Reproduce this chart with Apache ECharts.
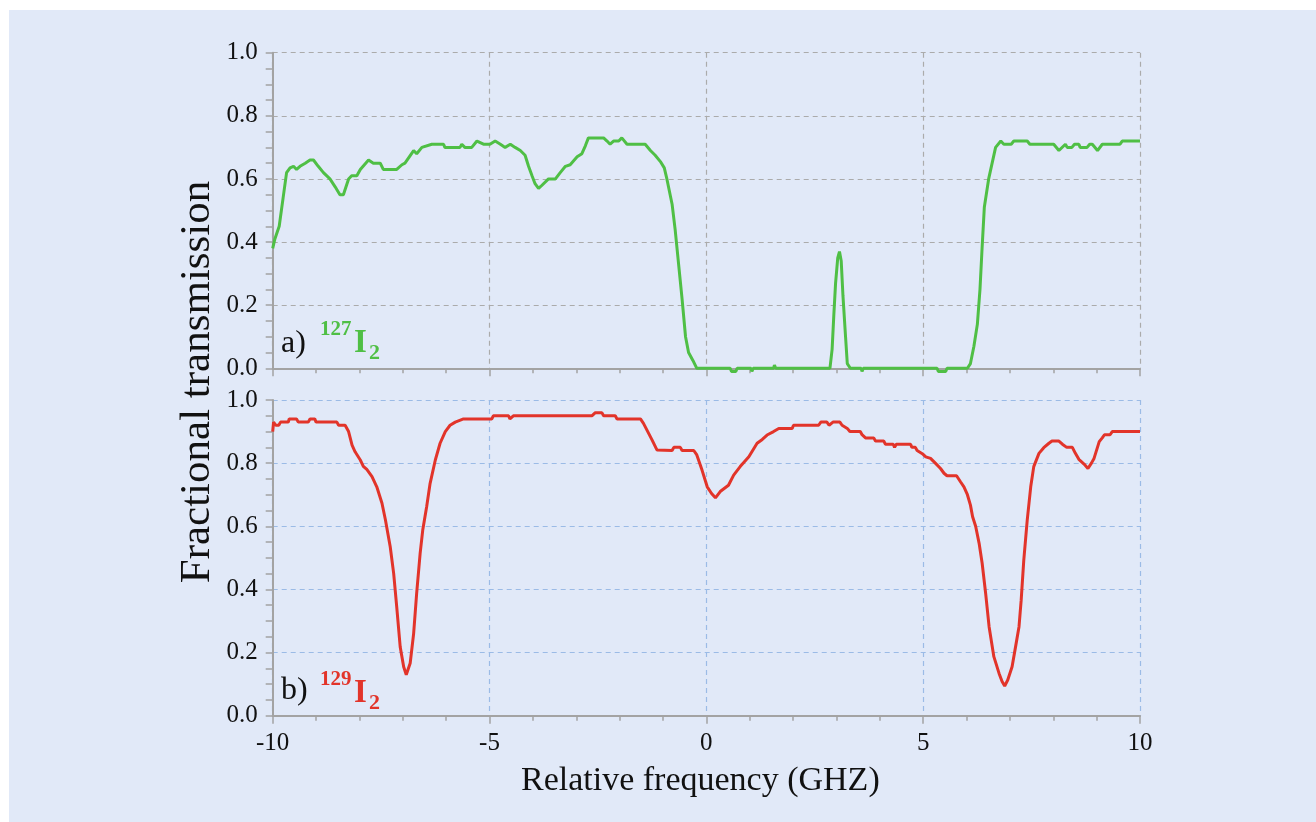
<!DOCTYPE html>
<html>
<head>
<meta charset="utf-8">
<script src="https://cdn.jsdelivr.net/npm/echarts@6/dist/echarts.min.js"></script>
<style>
  html, body { margin: 0; padding: 0; background: #ffffff; }
  #wrap { position: relative; width: 1316px; height: 822px; background: #ffffff; overflow: hidden; }
  #bg { position: absolute; left: 9px; top: 10px; width: 1307px; height: 812px; background: #e1e9f8; }
  #chart { position: absolute; left: 0; top: 0; width: 1316px; height: 822px; }
</style>
</head>
<body>
<div id="wrap"><div id="bg"></div><div id="chart"></div></div>
<script>
// ---- Data ----
const freqA = [-10,-9.95,-9.85,-9.76,-9.68,-9.6,-9.52,-9.45,-9.37,-9.25,-9.14,-9.06,-8.95,-8.83,-8.68,-8.56,-8.45,-8.37,-8.25,-8.18,-8.06,-7.98,-7.79,-7.68,-7.52,-7.45,-7.14,-7.02,-6.95,-6.75,-6.68,-6.56,-6.33,-6.06,-6.03,-5.68,-5.64,-5.57,-5.41,-5.29,-5.14,-4.99,-4.87,-4.75,-4.64,-4.52,-4.41,-4.29,-4.18,-4.10,-4.02,-3.95,-3.87,-3.79,-3.64,-3.48,-3.37,-3.25,-3.14,-2.98,-2.87,-2.79,-2.72,-2.37,-2.29,-2.22,-2.14,-2.02,-1.95,-1.83,-1.41,-1.29,-1.18,-1.06,-0.97,-0.91,-0.79,-0.72,-0.64,-0.56,-0.48,-0.41,-0.31,-0.22,0.55,0.58,0.68,0.71,1.03,1.05,1.08,1.55,1.57,1.6,2.85,2.90,2.94,2.98,3.03,3.07,3.11,3.15,3.21,3.25,3.28,3.32,3.57,3.59,3.62,5.32,5.35,5.52,5.55,6.02,6.09,6.17,6.25,6.31,6.36,6.41,6.51,6.59,6.67,6.79,6.86,7.03,7.09,7.40,7.46,8.01,8.13,8.28,8.32,8.43,8.49,8.59,8.62,8.78,8.84,8.90,9.02,9.13,9.54,9.59,10];
const transA = [0.38,0.41,0.45,0.54,0.62,0.635,0.64,0.63,0.64,0.65,0.66,0.66,0.64,0.62,0.60,0.575,0.55,0.55,0.60,0.61,0.61,0.63,0.66,0.65,0.65,0.63,0.63,0.645,0.65,0.69,0.68,0.70,0.71,0.71,0.70,0.70,0.71,0.70,0.70,0.72,0.71,0.71,0.72,0.71,0.70,0.71,0.70,0.69,0.675,0.64,0.61,0.585,0.57,0.58,0.60,0.60,0.62,0.64,0.645,0.67,0.68,0.705,0.73,0.73,0.72,0.71,0.72,0.72,0.73,0.71,0.71,0.69,0.675,0.655,0.635,0.60,0.52,0.44,0.33,0.22,0.10,0.05,0.025,0.0,0.0,-0.01,-0.01,0.0,0.0,-0.01,0.0,0.0,0.01,0.0,0.0,0.06,0.17,0.27,0.35,0.37,0.34,0.23,0.10,0.015,0.02,0.0,0.0,-0.01,0.0,0.0,-0.01,-0.01,0.0,0.0,0.015,0.07,0.14,0.25,0.385,0.51,0.60,0.65,0.70,0.72,0.71,0.71,0.72,0.72,0.71,0.71,0.69,0.71,0.70,0.70,0.71,0.71,0.70,0.70,0.71,0.71,0.69,0.71,0.71,0.72,0.72];

const freqB = [-10,-9.98,-9.93,-9.86,-9.82,-9.64,-9.62,-9.45,-9.41,-9.18,-9.14,-9.03,-9.0,-8.52,-8.48,-8.33,-8.25,-8.17,-8.10,-7.98,-7.91,-7.83,-7.71,-7.60,-7.48,-7.40,-7.29,-7.21,-7.14,-7.06,-6.98,-6.92,-6.83,-6.75,-6.68,-6.60,-6.54,-6.45,-6.37,-6.25,-6.14,-6.02,-5.91,-5.79,-5.60,-4.95,-4.91,-4.56,-4.53,-4.45,-2.64,-2.56,-2.41,-2.37,-2.10,-2.06,-1.52,-1.45,-1.25,-1.14,-0.79,-0.75,-0.60,-0.56,-0.29,-0.22,-0.10,0.02,0.12,0.21,0.32,0.51,0.63,0.78,0.98,1.17,1.29,1.40,1.55,1.67,1.98,2.01,2.59,2.64,2.78,2.83,2.92,3.08,3.13,3.25,3.31,3.55,3.59,3.67,3.86,3.90,4.09,4.13,4.31,4.34,4.38,4.71,4.74,4.82,4.86,4.98,5.06,5.17,5.28,5.40,5.48,5.55,5.77,5.86,5.94,6.02,6.09,6.14,6.21,6.29,6.36,6.44,6.52,6.63,6.75,6.82,6.88,6.95,7.05,7.13,7.21,7.26,7.32,7.40,7.48,7.55,7.67,7.78,7.90,7.97,8.13,8.21,8.31,8.44,8.51,8.59,8.71,8.80,8.88,8.94,9.06,9.13,9.18,9.31,9.36,10];
const transB = [0.90,0.93,0.92,0.92,0.93,0.93,0.94,0.94,0.93,0.93,0.94,0.94,0.93,0.93,0.92,0.92,0.90,0.857,0.836,0.81,0.79,0.78,0.757,0.725,0.673,0.62,0.535,0.45,0.345,0.218,0.155,0.13,0.166,0.26,0.388,0.514,0.588,0.662,0.736,0.81,0.863,0.90,0.92,0.93,0.94,0.94,0.95,0.95,0.94,0.95,0.95,0.96,0.96,0.95,0.95,0.94,0.94,0.926,0.873,0.842,0.84,0.85,0.85,0.84,0.84,0.826,0.778,0.725,0.704,0.69,0.71,0.73,0.762,0.789,0.82,0.863,0.875,0.889,0.90,0.91,0.91,0.92,0.92,0.93,0.93,0.92,0.93,0.93,0.92,0.91,0.90,0.90,0.89,0.88,0.88,0.87,0.87,0.86,0.86,0.85,0.86,0.86,0.85,0.85,0.84,0.83,0.82,0.815,0.80,0.783,0.768,0.76,0.76,0.741,0.725,0.70,0.667,0.63,0.60,0.546,0.483,0.388,0.282,0.187,0.134,0.108,0.094,0.113,0.155,0.218,0.282,0.366,0.493,0.62,0.725,0.789,0.831,0.849,0.863,0.87,0.87,0.86,0.85,0.85,0.831,0.812,0.797,0.783,0.80,0.815,0.868,0.88,0.89,0.89,0.90,0.90];

const xTicks = { min: -10, max: 10, step: 5 };
const yTicks = { min: 0, max: 1, step: 0.2 };
const xTitle = 'Relative frequency (GHZ)';
const yTitle = 'Fractional transmission';

// ---- Styles ----
const FONT = '"Liberation Serif", "DejaVu Serif", serif';
const GREEN = '#4fbf45';
const RED = '#e2342a';
const AXIS = '#a3a3a3';

function pairs(xs, ys) { return xs.map((x, i) => [x, ys[i]]); }

function xAxisCfg(gridIndex, showLabels, gridColor) {
  return {
    type: 'value', gridIndex: gridIndex,
    min: xTicks.min, max: xTicks.max, interval: xTicks.step,
    axisLine: { show: true, onZero: false, lineStyle: { color: AXIS, width: 2 } },
    axisTick: { show: true, length: 8, lineStyle: { color: AXIS, width: 1.5 } },
    minorTick: { show: true, splitNumber: 5, length: 5, lineStyle: { color: AXIS, width: 1.5 } },
    axisLabel: showLabels ? { show: true, margin: 15, color: '#111', fontFamily: FONT, fontSize: 25,
      formatter: v => String(v) } : { show: false },
    splitLine: { show: true, lineStyle: { color: gridColor, type: [5, 4], width: 1.2 } },
    name: showLabels ? xTitle : '', nameLocation: 'middle', nameGap: 48,
    nameTextStyle: { color: '#111', fontFamily: FONT, fontSize: 34, padding: [0, 12, 0, 0] }
  };
}
function yAxisCfg(gridIndex, gridColor) {
  return {
    type: 'value', gridIndex: gridIndex,
    min: yTicks.min, max: yTicks.max, interval: yTicks.step,
    axisLine: { show: true, onZero: false, lineStyle: { color: AXIS, width: 2 } },
    axisTick: { show: true, length: 7, lineStyle: { color: AXIS, width: 1.5 } },
    minorTick: { show: true, splitNumber: 4, length: 7, lineStyle: { color: AXIS, width: 1.5 } },
    axisLabel: { show: true, margin: 15, color: '#111', fontFamily: FONT, fontSize: 25,
      formatter: v => v.toFixed(1) },
    splitLine: { show: true, lineStyle: { color: gridColor, type: [5, 4], width: 1.2 } }
  };
}

const chart = echarts.init(document.getElementById('chart'), null, { renderer: 'canvas' });
chart.setOption({
  backgroundColor: 'transparent',
  animation: false,
  grid: [
    { left: 272.7, right: 176, top: 52.7, height: 315.6 },
    { left: 272.7, right: 176, top: 400, height: 315.7 }
  ],
  xAxis: [ xAxisCfg(0, false, '#ababab'), xAxisCfg(1, true, '#9bbbe6') ],
  yAxis: [ yAxisCfg(0, '#ababab'), yAxisCfg(1, '#9bbbe6') ],
  series: [
    { type: 'line', xAxisIndex: 0, yAxisIndex: 0, data: pairs(freqA, transA), showSymbol: false,
      clip: false, lineStyle: { color: GREEN, width: 3 }, itemStyle: { color: GREEN }, z: 5 },
    { type: 'line', xAxisIndex: 1, yAxisIndex: 1, data: pairs(freqB, transB), showSymbol: false,
      clip: false, lineStyle: { color: RED, width: 3 }, itemStyle: { color: RED }, z: 5 }
  ],
  graphic: [
    { type: 'text', x: 198, y: 382, rotation: Math.PI / 2,
      style: { text: yTitle, font: '43px ' + FONT, fill: '#111', textAlign: 'center', textVerticalAlign: 'middle' } },
    // panel a label
    { type: 'text', x: 281, y: 344, style: { text: 'a)', font: '32px ' + FONT, fill: '#111', textVerticalAlign: 'middle' } },
    { type: 'text', x: 320, y: 329.5, style: { text: '127', font: 'bold 21px ' + FONT, fill: GREEN, textVerticalAlign: 'middle' } },
    { type: 'text', x: 354, y: 343, style: { text: 'I', font: 'bold 33px ' + FONT, fill: GREEN, textVerticalAlign: 'middle' } },
    { type: 'text', x: 369, y: 353, style: { text: '2', font: 'bold 22px ' + FONT, fill: GREEN, textVerticalAlign: 'middle' } },
    // panel b label
    { type: 'text', x: 281, y: 691, style: { text: 'b)', font: '32px ' + FONT, fill: '#111', textVerticalAlign: 'middle' } },
    { type: 'text', x: 320, y: 679.5, style: { text: '129', font: 'bold 21px ' + FONT, fill: RED, textVerticalAlign: 'middle' } },
    { type: 'text', x: 354, y: 693, style: { text: 'I', font: 'bold 33px ' + FONT, fill: RED, textVerticalAlign: 'middle' } },
    { type: 'text', x: 369, y: 703, style: { text: '2', font: 'bold 22px ' + FONT, fill: RED, textVerticalAlign: 'middle' } }
  ]
});
</script>
</body>
</html>
